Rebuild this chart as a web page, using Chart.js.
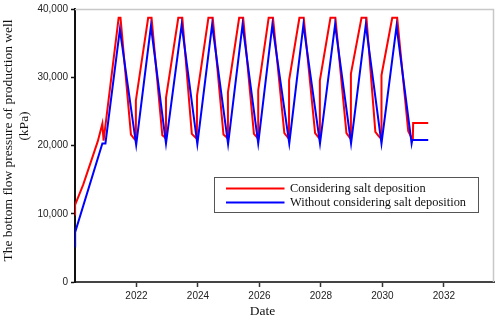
<!DOCTYPE html>
<html>
<head>
<meta charset="utf-8">
<script src="https://cdn.jsdelivr.net/npm/chart.js@4/dist/chart.umd.min.js"></script>
<style>
  html, body { margin: 0; padding: 0; background: #fff; }
  #wrap { position: relative; width: 498px; height: 319px; }
</style>
</head>
<body>
<div id="wrap"><canvas id="c" width="498" height="319"></canvas></div>
<script>
// ---- data ----
const seriesLabels = ['Considering salt deposition', 'Without considering salt deposition'];
const xTickYears = [2022, 2024, 2026, 2028, 2030, 2032];
const yTickValues = [0, 10000, 20000, 30000, 40000];

const redYears = [
  2020.000, 2020.003, 2020.27, 2020.74, 2020.89, 2020.93,
  2021.42, 2021.48, 2021.82, 2021.94, 2021.975, 2021.98,
  2022.38, 2022.49, 2022.84, 2022.92, 2022.955, 2022.96,
  2023.36, 2023.49, 2023.80, 2023.91, 2023.965, 2023.97,
  2024.34, 2024.48, 2024.83, 2024.93, 2024.97, 2024.975,
  2025.34, 2025.47, 2025.82, 2025.92, 2025.955, 2025.96,
  2026.30, 2026.44, 2026.81, 2026.92, 2026.96, 2026.965,
  2027.30, 2027.44, 2027.81, 2027.92, 2027.96, 2027.965,
  2028.31, 2028.47, 2028.83, 2028.93, 2028.97, 2028.975,
  2029.32, 2029.48, 2029.77, 2029.89, 2029.965, 2029.97,
  2030.32, 2030.48, 2030.84, 2030.93, 2030.99, 2031.00, 2031.49
];
const redValues = [
  9900, 11300, 14300, 20600, 23200, 20700,
  38700, 38700, 21600, 20900, 20800, 26600,
  38700, 38700, 21500, 21200, 21000, 27000,
  38700, 38700, 21700, 21200, 21000, 27300,
  38700, 38700, 21600, 21200, 21000, 27800,
  38700, 38700, 21700, 21200, 21000, 28100,
  38700, 38700, 21800, 21200, 21000, 29600,
  38700, 38700, 21800, 21200, 21000, 29500,
  38700, 38700, 21800, 21200, 21000, 30500,
  38700, 38700, 22000, 21300, 21000, 30300,
  38700, 38700, 22100, 21300, 21000, 23300, 23300
];

const blueYears = [
  2020.000, 2020.005, 2020.89, 2020.99,
  2021.46, 2021.99, 2022.47, 2022.96, 2023.47, 2023.98,
  2024.46, 2024.98, 2025.45, 2025.96, 2026.42, 2026.97,
  2027.43, 2027.97, 2028.46, 2028.98, 2029.46, 2029.97,
  2030.46, 2030.95, 2030.97, 2031.49
];
const blueValues = [
  5200, 7300, 20300, 20300,
  37000, 20100, 37500, 20300, 37700, 20200,
  37700, 20200, 37700, 20300, 37700, 20300,
  37700, 20300, 37700, 20300, 37700, 20300,
  37500, 20300, 20800, 20800
];

const toPoints = (xs, ys) => xs.map((x, i) => ({ x: x, y: ys[i] }));

const decor = {
  id: 'decor',
  beforeDatasetsDraw(chart) {
    const { ctx, chartArea: a } = chart;
    ctx.save();
    ctx.strokeStyle = '#c8c8c8';
    ctx.lineWidth = 1.5;
    ctx.beginPath();
    ctx.moveTo(a.left, a.top + 0.5);
    ctx.lineTo(a.right - 0.5, a.top + 0.5);
    ctx.lineTo(a.right - 0.5, a.bottom);
    ctx.stroke();
    ctx.restore();
  },
  afterDraw(chart) {
    const { ctx } = chart;
    ctx.save();
    // axis titles
    ctx.fillStyle = '#111';
    ctx.font = '13.5px "Liberation Serif"';
    ctx.textAlign = 'center';
    ctx.textBaseline = 'middle';
    ctx.fillText('Date', 262.5, 311.5);
    ctx.save();
    ctx.translate(8.5, 140.5);
    ctx.rotate(-Math.PI / 2);
    ctx.fillText('The bottom flow pressure of production well', 0, 0);
    ctx.restore();
    ctx.save();
    ctx.translate(24.5, 126);
    ctx.rotate(-Math.PI / 2);
    ctx.fillText('(kPa)', 0, 0);
    ctx.restore();
    // legend
    ctx.fillStyle = '#fff';
    ctx.fillRect(214.5, 177.5, 264, 35);
    ctx.strokeStyle = '#555';
    ctx.lineWidth = 1;
    ctx.strokeRect(214.5, 177.5, 264, 35);
    const rows = [188.5, 202.5];
    chart.data.datasets.forEach((ds, i) => {
      ctx.strokeStyle = ds.borderColor;
      ctx.lineWidth = 2;
      ctx.beginPath();
      ctx.moveTo(226, rows[i]);
      ctx.lineTo(284.5, rows[i]);
      ctx.stroke();
      ctx.fillStyle = '#111';
      ctx.font = '12.4px "Liberation Serif"';
      ctx.textAlign = 'left';
      ctx.textBaseline = 'middle';
      ctx.fillText(ds.label, 290, rows[i]);
    });
    ctx.restore();
  }
};

new Chart(document.getElementById('c'), {
  type: 'line',
  data: {
    datasets: [
      {
        label: seriesLabels[0],
        data: toPoints(redYears, redValues),
        borderColor: 'rgb(255,0,0)',
        borderWidth: 2,
        pointRadius: 0,
        tension: 0,
        order: 1
      },
      {
        label: seriesLabels[1],
        data: toPoints(blueYears, blueValues),
        borderColor: 'rgb(0,0,255)',
        borderWidth: 2,
        pointRadius: 0,
        tension: 0,
        order: 0
      }
    ]
  },
  options: {
    responsive: false,
    animation: false,
    devicePixelRatio: 1,
    layout: { padding: { left: 0, top: 6, right: 4, bottom: 0 } },
    plugins: {
      legend: { display: false },
      tooltip: { enabled: false }
    },
    scales: {
      x: {
        type: 'linear',
        min: 2020,
        max: 2033.63,
        afterBuildTicks: s => { s.ticks = xTickYears.map(v => ({ value: v })); },
        afterFit: s => { s.height = 37; },
        grid: { display: true, drawOnChartArea: false, drawTicks: true, tickLength: 5, color: '#333', tickWidth: 1.5 },
        border: { display: true, color: '#444', width: 2 },
        ticks: {
          color: '#222',
          font: { family: 'Liberation Sans', size: 10 },
          padding: 3,
          maxRotation: 0,
          callback: v => String(v)
        }
      },
      y: {
        type: 'linear',
        min: 0,
        max: 40000,
        afterBuildTicks: s => { s.ticks = yTickValues.map(v => ({ value: v })); },
        afterFit: s => { s.width = 75; },
        grid: { display: true, drawOnChartArea: false, drawTicks: true, tickLength: 4, color: '#111', tickWidth: 1.5 },
        border: { display: true, color: '#111', width: 2 },
        ticks: {
          color: '#222',
          font: { family: 'Liberation Sans', size: 10 },
          padding: 3,
          callback: v => v.toLocaleString('en-US')
        }
      }
    }
  },
  plugins: [decor]
});
</script>
</body>
</html>
